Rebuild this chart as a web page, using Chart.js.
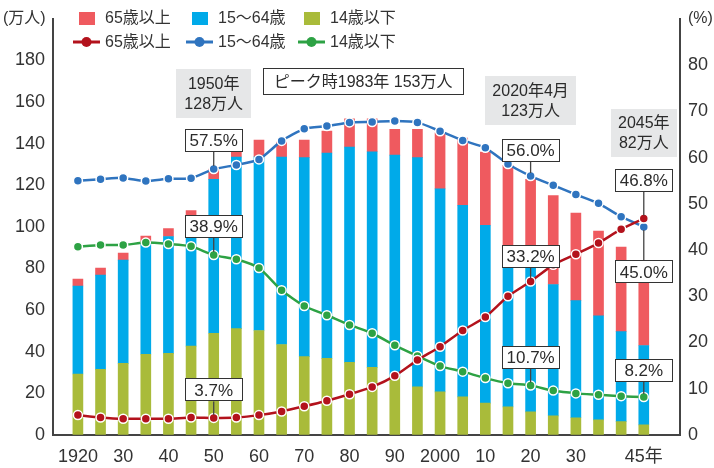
<!DOCTYPE html>
<html lang="ja">
<head>
<meta charset="utf-8">
<script src="https://cdn.jsdelivr.net/npm/chart.js@4.4.1/dist/chart.umd.min.js"></script>
<style>
html, body { margin: 0; padding: 0; background: #fff; }
#wrap { width: 714px; height: 468px; }
</style>
</head>
<body>
<div id="wrap"><canvas id="grafico" width="714" height="468"></canvas></div>
<script>
// datos (万人 y %)
const anios = [1920, 1925, 1930, 1935, 1940, 1945, 1950, 1955, 1960, 1965, 1970, 1975, 1980,
               1985, 1990, 1995, 2000, 2005, 2010, 2015, 2020, 2025, 2030, 2035, 2040, 2045]
const menores14 = [29.3, 31.5, 34.4, 38.8, 39.2, 42.7, 48.9, 51.1, 50.2, 43.5, 37.7, 36.8, 34.9,
                   32.5, 27.9, 23.1, 20.7, 18.3, 15.3, 13.5, 11.1, 9.2, 8.3, 7.3, 6.4, 4.9]
const edad15a64 = [42.3, 45.3, 49.6, 53.8, 56.2, 61.8, 73.9, 82.5, 83.5, 90.1, 95.6, 98.7, 103.5,
                   103.6, 106.6, 110.2, 97.6, 92.1, 85.5, 76.5, 69.3, 63.1, 56.3, 50.0, 43.3, 38.1]
const mayores65 = [3.3, 3.4, 3.4, 3.0, 3.8, 3.3, 5.0, 3.9, 8.0, 7.1, 8.4, 10.5, 13.5,
                   15.8, 12.4, 13.6, 26.9, 32.3, 35.2, 39.6, 42.5, 42.8, 42.0, 40.7, 40.6, 39.0]
const pctMayores65 = [4.3, 3.8, 3.5, 3.5, 3.5, 3.8, 3.7, 3.8, 4.3, 5.1, 6.2, 7.4, 8.8,
                      10.4, 12.8, 16.2, 19.1, 22.6, 25.5, 30.0, 33.2, 36.8, 39.1, 41.5, 44.5, 46.8]
const pct15a64 = [55.0, 55.3, 55.6, 54.9, 55.4, 55.5, 57.5, 58.4, 59.6, 63.6, 66.2, 66.8, 67.6,
                  67.7, 67.9, 67.6, 65.7, 63.7, 62.1, 58.6, 56.0, 54.0, 52.0, 50.1, 47.2, 45.0]
const pctMenores14 = [40.7, 41.1, 41.1, 41.6, 41.3, 40.8, 38.9, 38.0, 36.1, 31.3, 27.9, 25.9, 23.8,
                      22.0, 19.4, 17.1, 14.9, 13.7, 12.3, 11.2, 10.7, 9.6, 9.0, 8.7, 8.4, 8.2]
const anioTicks = [1920, 1930, 1940, 1950, 1960, 1970, 1980, 1990, 2000, 2010, 2020, 2030, 2045]
const etiquetasTicks = ['1920', '30', '40', '50', '60', '70', '80', '90', '2000', '10', '20', '30', '45年']

const fuente = '"Liberation Sans", "Noto Sans CJK JP", sans-serif'
const colores = {
    barraRoja: '#ef5a5f', barraAzul: '#00aae9', barraVerde: '#a9bb3a',
    lineaRoja: '#b3121c', lineaAzul: '#2f74bf', lineaVerde: '#2da244'
}

function puntos(valores) {
    return anios.map((x, i) => ({ x: x, y: valores[i] }))
}

// cuadros con porcentaje: dataset, indice, desplazamiento vertical
const llamadas = [
    { ds: 4, i: 6, texto: '57.5%', dy: -29 },
    { ds: 5, i: 6, texto: '38.9%', dy: -29 },
    { ds: 3, i: 6, texto: '3.7%', dy: -28 },
    { ds: 4, i: 20, texto: '56.0%', dy: -26 },
    { ds: 3, i: 20, texto: '33.2%', dy: -25 },
    { ds: 5, i: 20, texto: '10.7%', dy: -28 },
    { ds: 3, i: 25, texto: '46.8%', dy: -38 },
    { ds: 4, i: 25, texto: '45.0%', dy: 45 },
    { ds: 5, i: 25, texto: '8.2%', dy: -27 }
]

const cuadros = [
    { anio: 1950, lineas: ['1950年', '128万人'], top: 69, w: 75, h: 49, gris: true },
    { anio: 1983, lineas: ['ピーク時1983年 153万人'], top: 68, w: 201, h: 27, gris: false },
    { anio: 2020, lineas: ['2020年4月', '123万人'], top: 76, w: 91, h: 49, gris: true },
    { anio: 2045, lineas: ['2045年', '82万人'], top: 109, w: 66, h: 48, gris: true }
]

const anotaciones = {
    id: 'anotaciones',
    afterDatasetsDraw(chart) {
        const ctx = chart.ctx
        const xs = chart.scales.x
        ctx.save()
        ctx.textAlign = 'center'
        ctx.textBaseline = 'middle'

        for (const c of cuadros) {
            const cx = xs.getPixelForValue(c.anio)
            const left = Math.round(cx - c.w / 2)
            ctx.fillStyle = c.gris ? '#e6e7e8' : '#fff'
            ctx.fillRect(left, c.top, c.w, c.h)
            if (!c.gris) {
                ctx.strokeStyle = '#333'
                ctx.lineWidth = 1
                ctx.strokeRect(left + 0.5, c.top + 0.5, c.w - 1, c.h - 1)
            }
            ctx.fillStyle = '#2b2b2b'
            ctx.font = '16px ' + fuente
            const n = c.lineas.length
            c.lineas.forEach((t, k) => {
                ctx.fillText(t, cx, c.top + c.h / 2 + (k - (n - 1) / 2) * 20 + 1)
            })
        }

        for (const c of llamadas) {
            const p = chart.getDatasetMeta(c.ds).data[c.i]
            const w = 58, h = 23
            const cy = p.y + c.dy
            ctx.strokeStyle = '#444'
            ctx.lineWidth = 1.3
            ctx.beginPath()
            if (c.dy < 0) {
                ctx.moveTo(p.x, cy + h / 2)
                ctx.lineTo(p.x, p.y - 3)
            } else {
                ctx.moveTo(p.x, cy - h / 2)
                ctx.lineTo(p.x, p.y + 3)
            }
            ctx.stroke()
            const left = Math.round(p.x - w / 2)
            const top = Math.round(cy - h / 2)
            ctx.fillStyle = '#fff'
            ctx.fillRect(left, top, w, h)
            ctx.strokeStyle = '#333'
            ctx.lineWidth = 1
            ctx.strokeRect(left + 0.5, top + 0.5, w - 1, h - 1)
            ctx.fillStyle = '#2b2b2b'
            ctx.font = '17px ' + fuente
            ctx.fillText(c.texto, p.x, cy + 1)
        }
        ctx.restore()
    },
    afterDraw(chart) {
        const ctx = chart.ctx
        const ds = chart.data.datasets
        ctx.save()
        ctx.font = '16px ' + fuente
        ctx.fillStyle = '#333'
        ctx.textBaseline = 'middle'
        ctx.textAlign = 'left'
        ctx.fillText('(万人)', 3, 19)
        ctx.fillText('(%)', 688, 19)

        // leyenda, fila de barras
        const posX = [79, 192, 304]
        const barras = [ds[2], ds[1], ds[0]]
        barras.forEach((d, k) => {
            ctx.fillStyle = d.backgroundColor
            ctx.fillRect(posX[k], 12, 16, 13)
            ctx.fillStyle = '#333'
            ctx.fillText(d.label, posX[k] + 26, 19)
        })
        // leyenda, fila de lineas
        const lineas = [ds[3], ds[4], ds[5]]
        lineas.forEach((d, k) => {
            const x0 = posX[k] - 6
            ctx.strokeStyle = d.borderColor
            ctx.lineWidth = 3
            ctx.beginPath()
            ctx.moveTo(x0, 42)
            ctx.lineTo(x0 + 27, 42)
            ctx.stroke()
            ctx.fillStyle = d.borderColor
            ctx.beginPath()
            ctx.arc(x0 + 13.5, 42, 5, 0, Math.PI * 2)
            ctx.fill()
            ctx.fillStyle = '#333'
            ctx.fillText(d.label, posX[k] + 26, 43)
        })
        ctx.restore()
    }
}

function serie_linea(label, valores, color) {
    return {
        type: 'line', label: label, yAxisID: 'y1', order: 0,
        data: puntos(valores),
        borderColor: color, backgroundColor: color,
        borderWidth: 2.5, tension: 0.2,
        pointRadius: 4.5, pointBackgroundColor: color,
        pointBorderColor: '#fff', pointBorderWidth: 1.5
    }
}

function serie_barra(label, valores, color) {
    return {
        type: 'bar', label: label, yAxisID: 'y', order: 1,
        data: puntos(valores),
        backgroundColor: color, barThickness: 10
    }
}

Chart.defaults.font.family = fuente
Chart.defaults.color = '#333'

new Chart(document.getElementById('grafico'), {
    type: 'bar',
    data: {
        datasets: [
            serie_barra('14歳以下', menores14, colores.barraVerde),
            serie_barra('15～64歳', edad15a64, colores.barraAzul),
            serie_barra('65歳以上', mayores65, colores.barraRoja),
            serie_linea('65歳以上', pctMayores65, colores.lineaRoja),
            serie_linea('15～64歳', pct15a64, colores.lineaAzul),
            serie_linea('14歳以下', pctMenores14, colores.lineaVerde)
        ]
    },
    options: {
        responsive: false,
        animation: false,
        layout: { padding: { top: 14 } },
        plugins: { legend: { display: false }, tooltip: { enabled: false } },
        scales: {
            x: {
                type: 'linear', min: 1914.5, max: 2053, stacked: true, offset: false,
                grid: { display: true, drawOnChartArea: false, drawTicks: false, offset: false },
                border: { color: '#444', width: 2 },
                afterBuildTicks: s => { s.ticks = anioTicks.map(v => ({ value: v })) },
                afterFit: s => { s.height = 33 },
                ticks: {
                    autoSkip: false, maxRotation: 0, padding: 11,
                    font: { size: 18 }, color: '#333',
                    callback: (v, i) => etiquetasTicks[i]
                }
            },
            y: {
                position: 'left', min: 0, max: 200, stacked: true,
                grid: { display: true, drawOnChartArea: false, drawTicks: false },
                border: { color: '#444', width: 2 },
                afterFit: s => { s.width = 53 },
                ticks: {
                    stepSize: 20, padding: 8, font: { size: 18 }, color: '#333',
                    callback: v => v === 200 ? '' : v
                }
            },
            y1: {
                position: 'right', min: 0, max: 90,
                grid: { display: true, drawOnChartArea: false, drawTicks: false },
                border: { color: '#444', width: 2 },
                afterFit: s => { s.width = 34 },
                ticks: {
                    stepSize: 10, padding: 8, font: { size: 18 }, color: '#333',
                    callback: v => v === 90 ? '' : v
                }
            }
        }
    },
    plugins: [anotaciones]
})
</script>
</body>
</html>
